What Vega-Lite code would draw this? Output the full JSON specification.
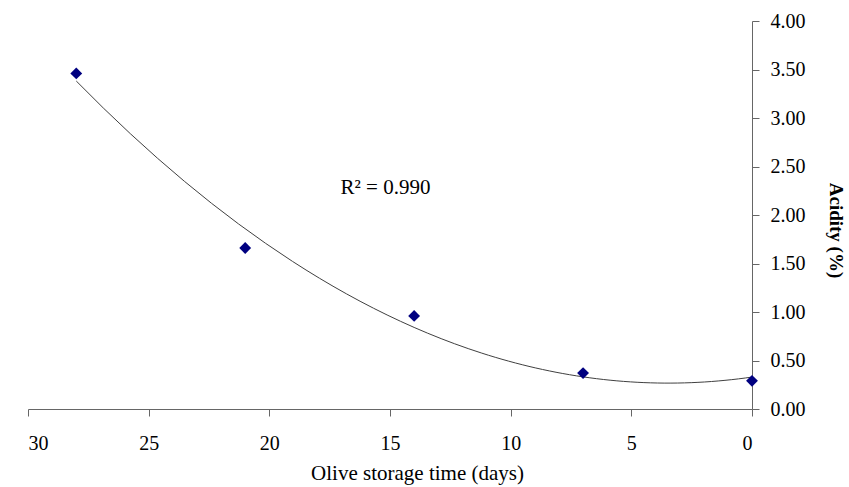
{
  "$schema": "https://vega.github.io/schema/vega-lite/v6.json",
  "width": 724,
  "height": 388,
  "autosize": {"type": "none"},
  "padding": {"left": 28, "top": 21, "right": 97, "bottom": 78},
  "background": "white",
  "config": {
    "view": {"stroke": null},
    "font": "Times New Roman, Liberation Serif, serif",
    "axis": {"grid": false, "domainColor": "#666666", "tickColor": "#666666", "labelFont": "Times New Roman, Liberation Serif, serif", "titleFont": "Times New Roman, Liberation Serif, serif", "labelFontSize": 20, "titleFontSize": 21, "labelColor": "#000000", "titleColor": "#000000", "tickSize": 7, "domainWidth": 1, "tickWidth": 1, "titleFontWeight": "normal"}
  },
  "datasets": {
    "pts": [
      {"days": 28, "acidity": 3.46},
      {"days": 21, "acidity": 1.66},
      {"days": 14, "acidity": 0.96},
      {"days": 7, "acidity": 0.37},
      {"days": 0, "acidity": 0.29}
    ],
    "ann": [{"days": 17.05, "acidity": 2.28, "label": "R² = 0.990"}]
  },
  "layer": [
    {
      "data": {"name": "pts"},
      "transform": [{"regression": "acidity", "on": "days", "method": "poly", "order": 2}],
      "mark": {"type": "line", "color": "#404040", "strokeWidth": 1},
      "encoding": {
        "x": {"field": "days", "type": "quantitative", "scale": {"domain": [0, 30], "reverse": true, "nice": false},
          "axis": {"values": [0, 5, 10, 15, 20, 25, 30], "title": "Olive storage time (days)", "labelPadding": 17, "titleX": 389, "titleY": 70, "titleBaseline": "alphabetic", "titleAnchor": "middle", "titleAlign": "center"}},
        "y": {"field": "acidity", "type": "quantitative", "scale": {"domain": [0, 4], "nice": false},
          "axis": {"orient": "right", "values": [0, 0.5, 1, 1.5, 2, 2.5, 3, 3.5, 4], "format": ".2f", "title": "Acidity (%)", "titleAngle": 90, "titleFontWeight": "bold", "titleFontSize": 19, "titleX": 83, "titleY": 209, "titleAlign": "center", "titleBaseline": "middle", "labelPadding": 11}}
      }
    },
    {
      "data": {"name": "pts"},
      "mark": {"type": "point", "shape": "diamond", "filled": true, "color": "#000080", "size": 140, "opacity": 1},
      "encoding": {
        "x": {"field": "days", "type": "quantitative"},
        "y": {"field": "acidity", "type": "quantitative"}
      }
    },
    {
      "data": {"name": "ann"},
      "mark": {"type": "text", "align": "left", "baseline": "middle", "fontSize": 21, "font": "Times New Roman, Liberation Serif, serif", "color": "#000000"},
      "encoding": {
        "x": {"field": "days", "type": "quantitative"},
        "y": {"field": "acidity", "type": "quantitative"},
        "text": {"field": "label"}
      }
    }
  ]
}
